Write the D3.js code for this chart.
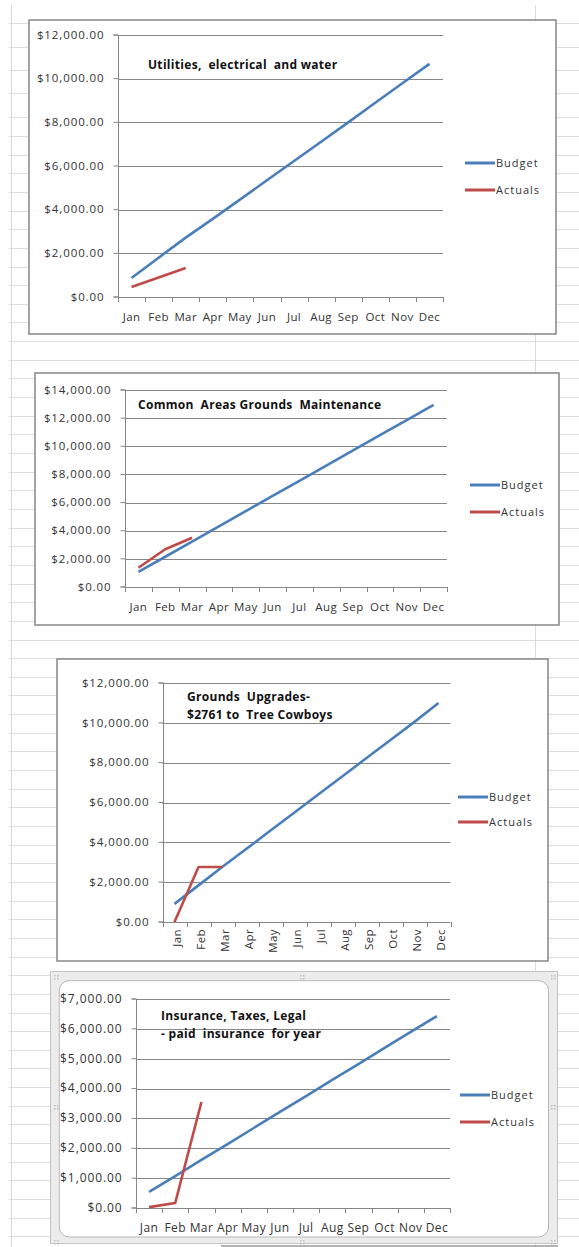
<!DOCTYPE html>
<html>
<head>
<meta charset="utf-8">
<script src="https://cdn.jsdelivr.net/npm/d3@7"></script>
<style>
  body { margin: 0; background: #fff; }
  text { font-family: "Open Sans", sans-serif; }
</style>
</head>
<body>
<div id="sheet"></div>
<script>
// Budget vs actuals, four expense charts

const months = ["Jan", "Feb", "Mar", "Apr", "May", "Jun", "Jul", "Aug", "Sep", "Oct", "Nov", "Dec"];

const utilitiesBudget = [870, 1800, 2720, 3580, 4460, 5350, 6230, 7110, 8000, 8900, 9790, 10680];
const utilitiesActuals = [460, 890, 1330];
const utilitiesTicks = [0, 2000, 4000, 6000, 8000, 10000, 12000];

const commonBudget = [1070, 2150, 3230, 4310, 5390, 6470, 7550, 8630, 9710, 10790, 11860, 12940];
const commonActuals = [1370, 2680, 3500];
const commonTicks = [0, 2000, 4000, 6000, 8000, 10000, 12000, 14000];

const upgradesBudget = [910, 1840, 2770, 3680, 4590, 5500, 6410, 7320, 8230, 9140, 10050, 11000];
const upgradesActuals = [0, 2761, 2761];
const upgradesTicks = [0, 2000, 4000, 6000, 8000, 10000, 12000];

const insuranceBudget = [540, 1070, 1610, 2140, 2680, 3220, 3750, 4290, 4820, 5360, 5900, 6430];
const insuranceActuals = [30, 170, 3550];
const insuranceTicks = [0, 1000, 2000, 3000, 4000, 5000, 6000, 7000];

const seriesNames = ["Budget", "Actuals"];
const seriesColors = ["#4a7ebb", "#be4b48"];

const W = 579, H = 1247;
const gridColor = "#868686";
const textColor = "#333";

const svg = d3.select("#sheet").append("svg")
    .attr("width", W)
    .attr("height", H)
    .attr("viewBox", [0, 0, W, H]);

// spreadsheet cells behind the charts
const rows = [23.3, 46.7, 70, 93.3, 116.7];
for (let y = 136; y < H; y += 18.65) rows.push(y);
svg.append("g")
    .attr("stroke", "#dcdcdc")
    .attr("stroke-width", 1)
    .selectAll("line")
    .data(rows)
    .join("line")
    .attr("x1", 9).attr("x2", W)
    .attr("y1", d => Math.round(d) + 0.5).attr("y2", d => Math.round(d) + 0.5);
svg.append("g")
    .attr("stroke", "#dcdcdc")
    .selectAll("line")
    .data([11, 535])
    .join("line")
    .attr("x1", d => d + 0.5).attr("x2", d => d + 0.5)
    .attr("y1", 5).attr("y2", H);
svg.append("line")
    .attr("x1", 221).attr("x2", 558).attr("y1", 1246).attr("y2", 1246)
    .attr("stroke", "#9a9a9a").attr("stroke-width", 1.5);

const charts = [
    {
        title: ["Utilities,  electrical  and water"],
        budget: utilitiesBudget, actuals: utilitiesActuals, ticks: utilitiesTicks,
        frame: [29, 20, 556, 334], plot: [118, 35, 443, 297],
        titleX: 148, titleY: 69, legendX: 465, legendY: [163, 190], fontSize: 11.5
    },
    {
        title: ["Common  Areas Grounds  Maintenance"],
        budget: commonBudget, actuals: commonActuals, ticks: commonTicks,
        frame: [35, 373, 559, 625], plot: [125, 390, 447, 587],
        titleX: 138, titleY: 409, legendX: 470, legendY: [485, 512], fontSize: 11.5
    },
    {
        title: ["Grounds  Upgrades-", "$2761 to  Tree Cowboys"],
        budget: upgradesBudget, actuals: upgradesActuals, ticks: upgradesTicks,
        frame: [57, 659, 548, 961], plot: [162.5, 683, 450.5, 922],
        titleX: 187, titleY: 701, legendX: 458, legendY: [797, 822], rotate: true, fontSize: 11.5
    },
    {
        title: ["Insurance, Taxes, Legal", "- paid  insurance  for year"],
        budget: insuranceBudget, actuals: insuranceActuals, ticks: insuranceTicks,
        frame: [59.3, 980.7, 548.5, 1237], plot: [136, 999, 450, 1208],
        titleX: 161, titleY: 1020, legendX: 460, legendY: [1095, 1122], selected: true, fontSize: 12
    }
];

charts.forEach(drawChart);

function drawChart(c) {
    const [fl, ft, fr, fb] = c.frame;
    const [pl, pt, pr, pb] = c.plot;
    const g = svg.append("g");

    if (c.selected) {
        // Excel selection border with handles
        g.append("rect")
            .attr("x", 50.5).attr("y", 971.5).attr("width", 507).attr("height", 272)
            .attr("fill", "#ececec").attr("stroke", "#c4c4c4");
        g.append("rect")
            .attr("x", fl).attr("y", ft).attr("width", fr - fl).attr("height", fb - ft)
            .attr("rx", 10).attr("fill", "#fff").attr("stroke", "#b8b8b8");
        const handles = [[54, 975], [551, 975], [54, 1240], [551, 1240], [300, 975], [300, 1240], [54, 1105], [551, 1105]];
        g.append("g").attr("fill", "#bdbdbd")
            .selectAll("rect")
            .data(handles.flatMap(([hx, hy]) => [[hx, hy], [hx + 3, hy], [hx, hy + 3], [hx + 3, hy + 3]]))
            .join("rect")
            .attr("x", d => d[0]).attr("y", d => d[1]).attr("width", 1.5).attr("height", 1.5);
    } else {
        g.append("rect")
            .attr("x", fl).attr("y", ft).attr("width", fr - fl).attr("height", fb - ft)
            .attr("fill", "#fff").attr("stroke", gridColor).attr("stroke-width", 1.5);
    }

    const x = d3.scaleBand().domain(months).range([pl, pr]);
    const y = d3.scaleLinear().domain([0, d3.max(c.ticks)]).range([pb, pt]);
    const cx = m => x(m) + x.bandwidth() / 2;

    // horizontal gridlines
    g.append("g")
        .attr("stroke", gridColor)
        .selectAll("line")
        .data(c.ticks)
        .join("line")
        .attr("x1", pl).attr("x2", pr)
        .attr("y1", d => Math.round(y(d)) + 0.5).attr("y2", d => Math.round(y(d)) + 0.5);

    // y axis
    const yAxis = g.append("g")
        .attr("transform", `translate(${Math.round(pl) + 0.5},0)`)
        .call(d3.axisLeft(y).tickValues(c.ticks).tickFormat(d3.format("$,.2f")).tickSize(5).tickPadding(9).offset(0));
    yAxis.select(".domain").attr("stroke", gridColor);
    yAxis.selectAll(".tick line").attr("stroke", gridColor);
    yAxis.selectAll(".tick text")
        .attr("fill", textColor)
        .style("font-size", c.fontSize + "px")
        .style("letter-spacing", "0.9px");

    // x axis: ticks between categories
    const bounds = months.map(m => x(m)).concat([pr]);
    g.append("g")
        .attr("stroke", gridColor)
        .selectAll("line")
        .data(bounds)
        .join("line")
        .attr("x1", d => Math.round(d) + 0.5).attr("x2", d => Math.round(d) + 0.5)
        .attr("y1", pb).attr("y2", pb + 5);

    const xLabels = g.append("g")
        .selectAll("text")
        .data(months)
        .join("text")
        .text(d => d)
        .attr("fill", textColor)
        .style("font-size", c.fontSize + "px")
        .style("letter-spacing", "0.4px");
    if (c.rotate) {
        xLabels
            .attr("text-anchor", "end")
            .attr("dy", "0.35em")
            .attr("transform", d => `translate(${cx(d) + 2},${pb + 7}) rotate(-90)`);
    } else {
        xLabels
            .attr("text-anchor", "middle")
            .attr("x", d => cx(d))
            .attr("y", pb + 24);
    }

    // series lines
    const line = d3.line()
        .x((d, i) => cx(months[i]))
        .y(d => y(d));
    [c.budget, c.actuals].forEach((values, i) => {
        g.append("path")
            .datum(values)
            .attr("fill", "none")
            .attr("stroke", seriesColors[i])
            .attr("stroke-width", 2.6)
            .attr("stroke-linejoin", "round")
            .attr("d", line);
    });

    // title
    const title = g.append("text")
        .attr("x", c.titleX)
        .attr("y", c.titleY)
        .attr("fill", "#111")
        .style("font-size", "12px")
        .style("font-weight", "bold")
        .style("letter-spacing", "0.3px")
        .style("white-space", "pre");
    title.selectAll("tspan")
        .data(c.title)
        .join("tspan")
        .attr("x", c.titleX)
        .attr("dy", (d, i) => i ? 18 : 0)
        .text(d => d);

    // legend
    const legend = g.append("g")
        .selectAll("g")
        .data(seriesNames)
        .join("g")
        .attr("transform", (d, i) => `translate(${c.legendX},${c.legendY[i]})`);
    legend.append("line")
        .attr("x1", 0).attr("x2", 30)
        .attr("stroke", (d, i) => seriesColors[i])
        .attr("stroke-width", 3);
    legend.append("text")
        .attr("x", 31)
        .attr("dy", "0.35em")
        .attr("fill", textColor)
        .style("font-size", "11px")
        .style("letter-spacing", "1px")
        .text(d => d);
}
</script>
</body>
</html>
